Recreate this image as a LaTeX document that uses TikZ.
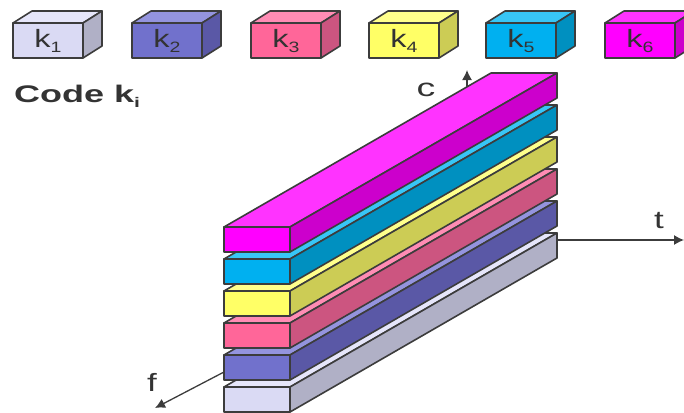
\documentclass[tikz,border=0pt]{standalone}
\usepackage{fontspec}
\setmainfont{Liberation Sans}
\usetikzlibrary{arrows.meta}
\definecolor{edge}{HTML}{3C3C3C}
\definecolor{txt}{HTML}{333333}
% light
\definecolor{lF}{HTML}{DADAF4}\definecolor{lT}{HTML}{E6E6FA}\definecolor{lR}{HTML}{B0B0C6}
% blue
\definecolor{bF}{HTML}{7171CC}\definecolor{bT}{HTML}{9494DE}\definecolor{bR}{HTML}{5A58A6}
% pink
\definecolor{pF}{HTML}{FF6699}\definecolor{pT}{HTML}{FF8CB4}\definecolor{pR}{HTML}{CC5580}
% yellow
\definecolor{yF}{HTML}{FFFF66}\definecolor{yT}{HTML}{FFFF8C}\definecolor{yR}{HTML}{CCCC55}
% cyan
\definecolor{cF}{HTML}{00B0F0}\definecolor{cT}{HTML}{38C6F6}\definecolor{cR}{HTML}{0090C0}
% magenta
\definecolor{mF}{HTML}{FF00FF}\definecolor{mT}{HTML}{FF33FF}\definecolor{mR}{HTML}{CC00CC}
\newcommand\cuboid[9]{%
  \filldraw[facestyle,fill=#8] (#1,#2) -- ({#1+#5},{#2+#6}) -- ({#1+#3+#5},{#2+#6}) -- ({#1+#3},#2) -- cycle;
  \filldraw[facestyle,fill=#9] ({#1+#3},#2) -- ({#1+#3+#5},{#2+#6}) -- ({#1+#3+#5},{#2+#4+#6}) -- ({#1+#3},{#2+#4}) -- cycle;
  \filldraw[facestyle,fill=#7] (#1,#2) rectangle ({#1+#3},{#2+#4});
}
\newcommand\klabel[3]{\node[klab] (#1) at (#2,41) {\scalebox{1.3}[1]{k\raisebox{-5pt}{\fontsize{15}{15}\selectfont #3}}};}
\begin{document}
\begin{tikzpicture}[x=1pt,y=-1pt,
  facestyle/.style={draw=edge,line width=1.6pt,line join=round},
  klab/.style={text=txt,font=\fontsize{25}{25}\selectfont,inner sep=0pt},
  axlab/.style={text=txt,font=\fontsize{25}{25}\selectfont,inner sep=0pt},
  axis/.style={draw=edge,line width=1.3pt,-{Latex[length=10pt,width=10pt]}}]
\useasboundingbox (0,0) rectangle (684,412);
\clip (0,0) rectangle (684,412);
% top code cubes
\cuboid{13}{23}{70}{35}{19}{-12}{lF}{lT}{lR}
\cuboid{132}{23}{70}{35}{19}{-12}{bF}{bT}{bR}
\cuboid{251}{23}{70}{35}{19}{-12}{pF}{pT}{pR}
\cuboid{369}{23}{70}{35}{19}{-12}{yF}{yT}{yR}
\cuboid{486}{23}{70}{35}{19}{-12}{cF}{cT}{cR}
\cuboid{605}{23}{70}{35}{19}{-12}{mF}{mT}{mR}
\klabel{k1}{48}{1}
\klabel{k2}{167}{2}
\klabel{k3}{286}{3}
\klabel{k4}{404}{4}
\klabel{k5}{521}{5}
\klabel{k6}{640}{6}
\node[text=txt,font=\fontsize{24}{24}\selectfont\bfseries,inner sep=0pt,anchor=base west] (code) at (14,102)
  {\scalebox{1.5}[1]{Code k\raisebox{-5pt}{\fontsize{14}{14}\selectfont i}}};
% axes (drawn behind the stack)
\coordinate (fO) at (224,372);
\coordinate (fE) at (155,408);
\coordinate (tO) at (552,240);
\coordinate (tE) at (684,240);
\coordinate (cO) at (467,95);
\coordinate (cE) at (467,70);
\draw[axis] (fO) -- (fE);
\draw[axis] (tO) -- (tE);
\draw[axis] (cO) -- (cE);
% stacked bars
\cuboid{224}{387}{66}{25}{267}{-154}{lF}{lT}{lR}
\cuboid{224}{355}{66}{25}{267}{-154}{bF}{bT}{bR}
\cuboid{224}{323}{66}{25}{267}{-154}{pF}{pT}{pR}
\cuboid{224}{291}{66}{25}{267}{-154}{yF}{yT}{yR}
\cuboid{224}{259}{66}{25}{267}{-154}{cF}{cT}{cR}
\cuboid{224}{227}{66}{25}{267}{-154}{mF}{mT}{mR}
% axis labels
\node[axlab] (lc) at (426,90) {\scalebox{1.5}[1]{c}};
\node[axlab] (lt) at (659,221) {\scalebox{1.4}[1]{t}};
\node[axlab] (lf) at (152,382) {\scalebox{1.4}[1]{f}};
\end{tikzpicture}
\end{document}
